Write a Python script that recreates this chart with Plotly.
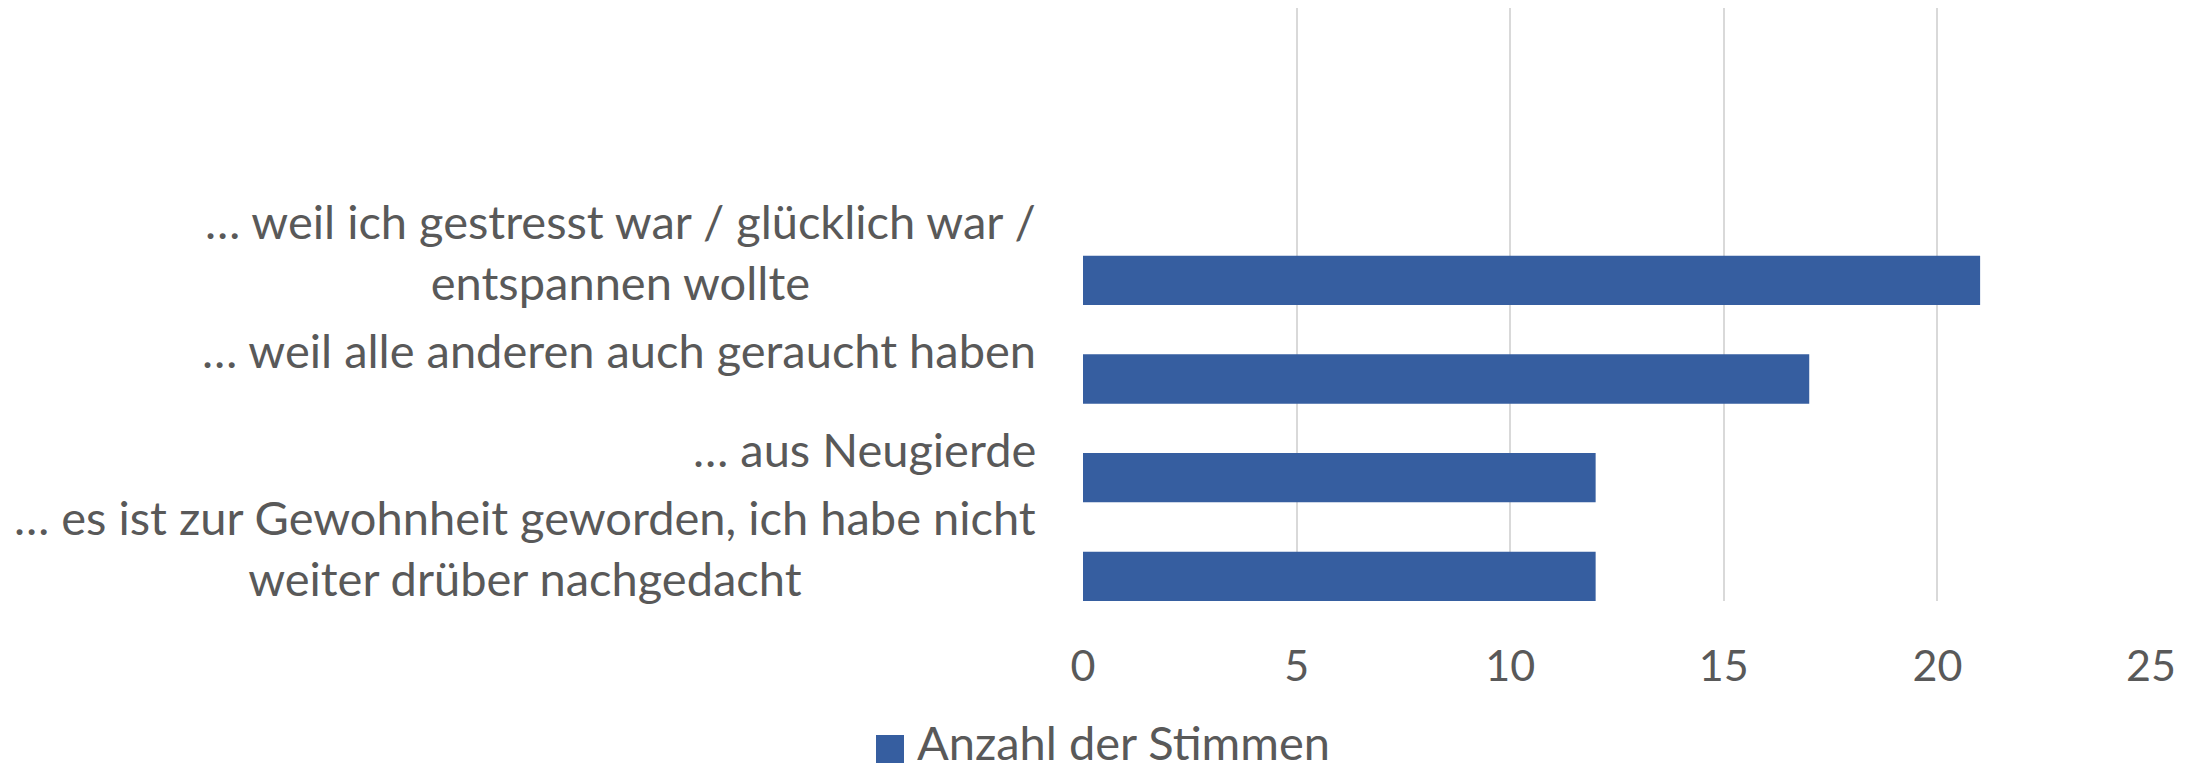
import plotly.graph_objects as go

categories = [
    "… weil ich gestresst war / glücklich war /<br>entspannen wollte",
    "… weil alle anderen auch geraucht haben",
    "… aus Neugierde",
    "… es ist zur Gewohnheit geworden, ich habe nicht<br>weiter drüber nachgedacht",
]
values = [21, 17, 12, 12]
series_name = "Anzahl der Stimmen"
x_ticks = [0, 5, 10, 15, 20, 25]

BAR_COLOR = "#365EA0"
TEXT_COLOR = "#595959"
FONT = "Lato"

# page body has an 8px default margin -> figure is 8px smaller than the window
W, H = 2195, 763
L, R, T, B = 1075, 52, 0, 170
PW, PH = W - L - R, H - T - B

order = list(reversed(categories))

fig = go.Figure()
fig.add_trace(go.Bar(
    y=categories, x=values, orientation="h", name=series_name,
    marker=dict(color=BAR_COLOR, line=dict(width=0)), width=0.5,
    showlegend=False,
))

for c in categories:
    fig.add_annotation(
        x=0, xref="paper", y=c, yref="y", text=c, showarrow=False,
        xanchor="right", yanchor="middle", align="center",
        xshift=-45, yshift=29,
        font=dict(family=FONT, size=47, color=TEXT_COLOR),
    )

# legend key (square + label)
fig.add_shape(type="rect", xref="paper", yref="paper",
              x0=(868 - L) / PW, x1=(896 - L) / PW,
              y0=(PH - 727) / PH, y1=(PH - 755) / PH,
              fillcolor=BAR_COLOR, line=dict(width=0))
fig.add_annotation(x=(907 - L) / PW, xref="paper", y=(PH - 734) / PH, yref="paper",
                   text=series_name, showarrow=False, xanchor="left", yanchor="middle",
                   font=dict(family=FONT, size=47, color=TEXT_COLOR))

fig.update_layout(
    width=W, height=H,
    margin=dict(l=L, r=R, t=T, b=B),
    paper_bgcolor="white", plot_bgcolor="white",
    font=dict(family=FONT, color=TEXT_COLOR),
)
fig.update_xaxes(
    range=[0, 25], tickvals=x_ticks, ticktext=[str(t) for t in x_ticks],
    showgrid=True, gridcolor="#D9D9D9", gridwidth=2, zeroline=False,
    showline=False, ticks="", ticklabelstandoff=36,
    tickfont=dict(family=FONT, size=43, color=TEXT_COLOR),
)
fig.update_yaxes(
    categoryorder="array", categoryarray=order,
    range=[-0.25, 5.76], showticklabels=False, showgrid=False,
    zeroline=False, showline=False, ticks="",
)

fig.write_html("out.html")
